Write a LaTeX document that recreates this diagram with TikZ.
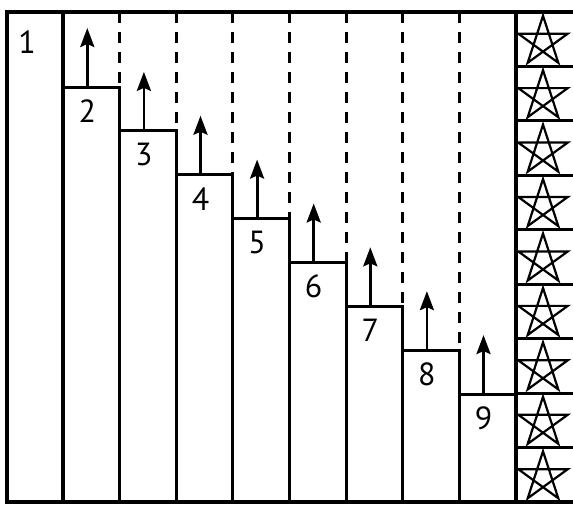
\documentclass[tikz,border=0pt]{standalone}
\usepackage{fontspec}
\setmainfont{PT Sans}
\usetikzlibrary{arrows.meta}
\begin{document}
\begin{tikzpicture}[x=1pt,y=-1pt,
  frame/.style={line width=3.2pt},
  inner/.style={line width=3pt},
  dashline/.style={line width=3pt,dash pattern=on 11pt off 9pt},
  up/.style={line width=2.8pt,-{Stealth[length=19pt,width=14pt,inset=3pt]}},
  lbl/.style={font=\fontsize{32}{32}\selectfont,inner sep=0pt},
  starline/.style={line width=2.2pt,line join=miter}]
\useasboundingbox (0,0) rectangle (573,506);
% outer frame
\draw[frame] (575,12) -- (7,12) -- (7,502) -- (575,502);
\draw[frame] (63,12) -- (63,502);
\draw[frame] (516,12) -- (516,502);
% steps
\foreach \i in {2,...,9}{
  \pgfmathsetmacro\xl{63+(\i-2)*56.6}
  \pgfmathsetmacro\xr{63+(\i-1)*56.6}
  \pgfmathsetmacro\yt{87+(\i-2)*43.86}
  \pgfmathsetmacro\xc{(\xl+\xr)/2-4}
  \coordinate (base\i) at (\xc,\yt);
  \coordinate (tip\i) at (\xc,\yt-59);
  \draw[inner] (\xl,\yt) -- (\xr,\yt) -- (\xr,502);
  \ifnum\i<9
    \draw[dashline] (\xr,12) -- (\xr,\yt);
  \fi
  \draw[up] (base\i) -- (tip\i);
  \node[lbl] (n\i) at (\xc,\yt+24) {\i};
}
\node[lbl] (n1) at (27,42) {1};
% star column
\foreach \k in {0,...,8}{
  \pgfmathsetmacro\yc{12+(\k+0.5)*54.44+2.5}
  \ifnum\k>0
    \draw[inner] (516,{12+\k*54.44}) -- (575,{12+\k*54.44});
  \fi
  \draw[starline] (543,\yc) +(-90:26) -- +(-90+144:26) -- +(-90+288:26) -- +(-90+432:26) -- +(-90+576:26) -- cycle;
}
\end{tikzpicture}
\end{document}
